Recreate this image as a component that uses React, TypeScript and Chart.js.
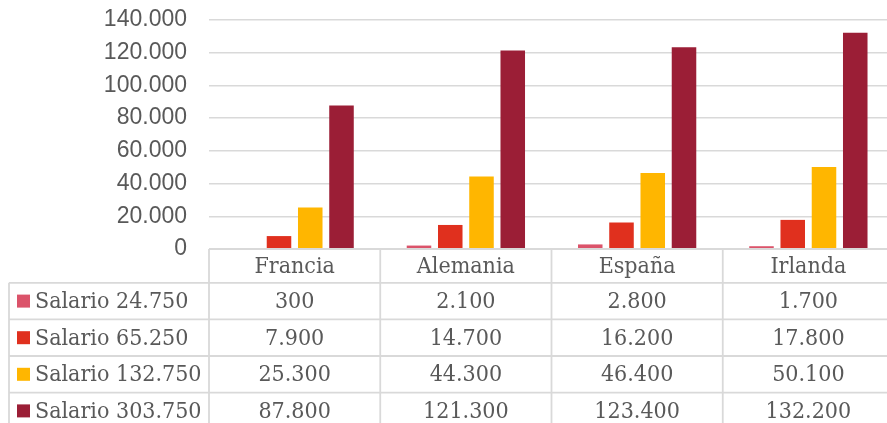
import React, { useEffect, useRef } from "react";
import { Chart, registerables } from "chart.js";

Chart.register(...registerables);

const categories = ["Francia", "Alemania", "España", "Irlanda"];
const seriesNames = ["Salario 24.750", "Salario 65.250", "Salario 132.750", "Salario 303.750"];
const salario24750 = [300, 2100, 2800, 1700];
const salario65250 = [7900, 14700, 16200, 17800];
const salario132750 = [25300, 44300, 46400, 50100];
const salario303750 = [87800, 121300, 123400, 132200];
const seriesColors = ["#DB536A", "#E0301E", "#FFB600", "#9B1E36"];
const yMax = 140000;
const yStep = 20000;

const fmt = (v: number) => String(Math.round(v)).replace(/\B(?=(\d{3})+(?!\d))/g, ".");

const TEXT = "#595959";
const LINE = "#d9d9d9";
const SERIF = "'DejaVu Serif Condensed', 'DejaVu Serif', serif";

const tablePlugin = {
  id: "dataTable",
  afterDraw(chart: any) {
    const { ctx, chartArea } = chart;
    const x = chart.scales.x;
    const n = categories.length;
    const colW = (chartArea.right - chartArea.left) / n;
    const top = chartArea.bottom;
    const headerH = 33.8;
    const rowH = 36.6;
    const tableLeft = 9;
    const right = chart.width;
    const allSeries = [salario24750, salario65250, salario132750, salario303750];
    const rowTops: number[] = [];
    for (let r = 0; r <= allSeries.length; r++) rowTops.push(top + headerH + r * rowH);
    const bottom = rowTops[rowTops.length - 1];

    ctx.save();
    ctx.strokeStyle = LINE;
    ctx.lineWidth = 1.8;
    ctx.beginPath();
    ctx.moveTo(chartArea.left, top);
    ctx.lineTo(right, top);
    ctx.stroke();
    for (let r = 0; r < rowTops.length; r++) {
      ctx.beginPath();
      ctx.moveTo(tableLeft, rowTops[r]);
      ctx.lineTo(right, rowTops[r]);
      ctx.stroke();
    }
    ctx.beginPath();
    ctx.moveTo(tableLeft, rowTops[0]);
    ctx.lineTo(tableLeft, bottom);
    ctx.stroke();
    for (let c = 0; c <= n; c++) {
      const cx = chartArea.left + c * colW;
      ctx.beginPath();
      ctx.moveTo(cx, top);
      ctx.lineTo(cx, bottom);
      ctx.stroke();
    }

    ctx.fillStyle = TEXT;
    ctx.font = `23px ${SERIF}`;
    ctx.textBaseline = "middle";
    ctx.textAlign = "center";
    categories.forEach((cat, i) => {
      ctx.fillText(cat, x.getPixelForValue(i), top + headerH / 2 + 1);
    });
    allSeries.forEach((vals, r) => {
      const cy = rowTops[r] + rowH / 2 + 1;
      ctx.fillStyle = seriesColors[r];
      ctx.fillRect(17, cy - 7.5, 13, 13);
      ctx.fillStyle = TEXT;
      ctx.textAlign = "left";
      ctx.fillText(seriesNames[r], 35, cy);
      ctx.textAlign = "center";
      vals.forEach((v, i) => {
        ctx.fillText(fmt(v), x.getPixelForValue(i), cy);
      });
    });
    ctx.restore();
  },
};

export default function App() {
  const ref = useRef<HTMLCanvasElement>(null);
  useEffect(() => {
    const canvas = ref.current!;
    const data = [salario24750, salario65250, salario132750, salario303750];
    const chart = new Chart(canvas, {
      type: "bar",
      data: {
        labels: categories,
        datasets: data.map((d, i) => ({
          label: seriesNames[i],
          data: d,
          backgroundColor: seriesColors[i],
          borderWidth: 0,
          categoryPercentage: 0.73,
          barPercentage: 0.785,
        })),
      },
      options: {
        responsive: false,
        animation: false,
        devicePixelRatio: 1,
        layout: { padding: { left: 0, top: 20, right: 6, bottom: 181 } },
        plugins: { legend: { display: false }, tooltip: { enabled: false } },
        scales: {
          x: { display: false, grid: { display: false } },
          y: {
            min: 0,
            max: yMax,
            border: { display: false },
            grid: { color: LINE, lineWidth: 1.5, drawTicks: false },
            afterFit: (scale: any) => {
              scale.width = 209;
              scale.paddingTop = 0;
              scale.paddingBottom = 0;
            },
            ticks: {
              stepSize: yStep,
              padding: 22,
              color: TEXT,
              font: { family: "'Liberation Sans', Arial, sans-serif", size: 23 },
              callback: (v: any) => fmt(Number(v)),
            },
          },
        },
      },
      plugins: [tablePlugin],
    });
    return () => chart.destroy();
  }, []);
  return (
    <div
      style={{
        position: "absolute",
        left: 0,
        top: 0,
        width: 887,
        height: 423,
        overflow: "hidden",
        background: "#fff",
      }}
    >
      <canvas ref={ref} width={900} height={430} style={{ width: 900, height: 430, display: "block" }} />
    </div>
  );
}
